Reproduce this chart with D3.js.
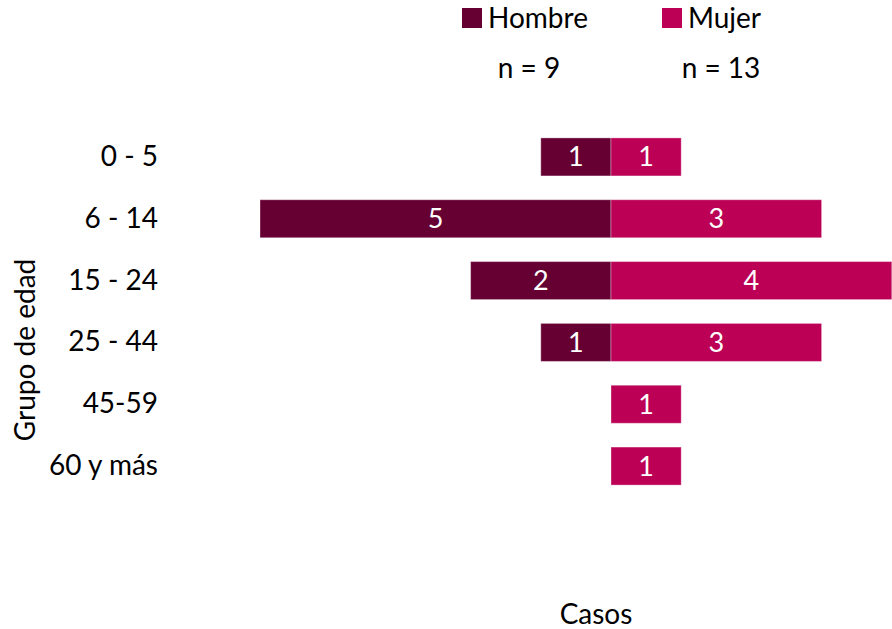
<!DOCTYPE html>
<html><head><meta charset="utf-8">
<script src="https://cdn.jsdelivr.net/npm/d3@7"></script>
<style>body{margin:0;background:#fff}svg{display:block;font-family:Lato,"Open Sans",sans-serif}</style>
</head><body><svg id="c" width="892" height="629"></svg>
<script>
const categories = ["0 - 5","6 - 14","15 - 24","25 - 44","45-59","60 y más"];
const hombre = [1,5,2,1,0,0];
const mujer = [1,3,4,3,1,1];
const seriesNames = ["Hombre","Mujer"];
const seriesN = ["n = 9","n = 13"];
const colors = ["#660033","#BB0055"];

const svg = d3.select("#c");
const x = d3.scaleLinear().domain([-5,5]).range([260,962]);
const y = d3.scaleBand().domain(categories).range([126,497]).paddingInner(0.385).paddingOuter(0.1925);
const fs = 28;

const rows = categories.map((c,i)=>({c, h:hombre[i], m:mujer[i]}));
const g = svg.append("g");
rows.filter(d=>d.h>0).forEach(d=>{
  g.append("rect").attr("x",x(-d.h)).attr("y",y(d.c)).attr("width",x(0)-x(-d.h)).attr("height",y.bandwidth())
    .attr("fill",colors[0]).attr("stroke","rgba(255,255,255,0.35)").attr("stroke-width",1);
  g.append("text").attr("x",(x(-d.h)+x(0))/2).attr("y",y(d.c)+y.bandwidth()/2).attr("dy","0.35em")
    .attr("text-anchor","middle").attr("fill","#fff").attr("font-size",fs-1).text(d.h);
});
rows.filter(d=>d.m>0).forEach(d=>{
  g.append("rect").attr("x",x(0)).attr("y",y(d.c)).attr("width",x(d.m)-x(0)).attr("height",y.bandwidth())
    .attr("fill",colors[1]).attr("stroke","rgba(255,255,255,0.35)").attr("stroke-width",1);
  g.append("text").attr("x",(x(0)+x(d.m))/2).attr("y",y(d.c)+y.bandwidth()/2).attr("dy","0.35em")
    .attr("text-anchor","middle").attr("fill","#fff").attr("font-size",fs-1).text(d.m);
});

const yAxis = d3.axisLeft(y).tickSize(0).tickPadding(0);
const ya = svg.append("g").attr("transform","translate(158,0)").call(yAxis);
ya.select(".domain").remove();
ya.selectAll("text").attr("font-size",fs).attr("fill","#000").attr("font-family","Lato,'Open Sans',sans-serif");

svg.append("text").attr("transform","translate(35,350) rotate(-90)").attr("text-anchor","middle")
  .attr("font-size",fs).attr("fill","#000").text("Grupo de edad");
svg.append("text").attr("x",596).attr("y",624).attr("text-anchor","middle").attr("font-size",fs).attr("fill","#000").text("Casos");

const legX = [462,662];
seriesNames.forEach((n,i)=>{
  svg.append("rect").attr("x",legX[i]).attr("y",8).attr("width",20).attr("height",20).attr("fill",colors[i]);
  svg.append("text").attr("x",legX[i]+26).attr("y",28).attr("font-size",fs).attr("fill","#000").text(n);
});
const nX = [529,721];
seriesN.forEach((t,i)=>{
  svg.append("text").attr("x",nX[i]).attr("y",78).attr("text-anchor","middle").attr("font-size",fs).attr("fill","#000").text(t);
});
</script></body></html>
